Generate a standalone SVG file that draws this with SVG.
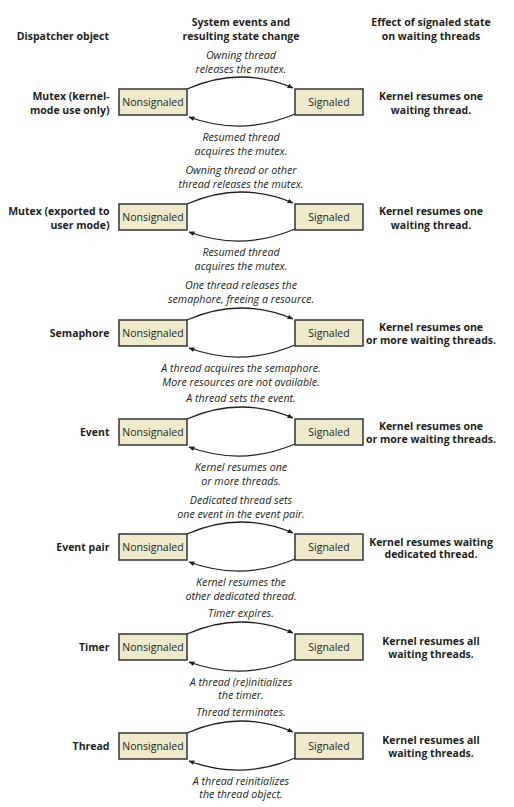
<svg xmlns="http://www.w3.org/2000/svg" width="514" height="807" viewBox="0 0 514 807">
<style>
text{font-family:"Open Sans","Noto Sans","Liberation Sans",sans-serif;fill:#231f20}
.h{font-weight:bold;font-size:10.5px;text-anchor:middle}
.l{font-weight:bold;font-size:10.5px;text-anchor:end}
.r{font-weight:bold;font-size:10.5px;text-anchor:middle}
.e{font-style:italic;font-size:10.7px;text-anchor:middle;fill:#231f20}
.b{font-size:10.5px;text-anchor:middle}
.box{fill:#efeacb;stroke:#333;stroke-width:1.5}
.c{fill:none;stroke:#231f20;stroke-width:1.3;marker-end:url(#ah)}
</style>
<defs>
<marker id="ah" viewBox="0 0 10 8" refX="9" refY="4" markerWidth="6" markerHeight="5" markerUnits="userSpaceOnUse" orient="auto">
<path d="M0,0 L10,4 L0,8 Z" fill="#231f20"/>
</marker>
</defs>
<rect width="514" height="807" fill="#fff"/>
<g id="headers">
<text class="l" x="109" y="40">Dispatcher object</text>
<text class="h" x="241" y="26">System events and</text>
<text class="h" x="241" y="40">resulting state change</text>
<text class="h" x="431" y="26">Effect of signaled state</text>
<text class="h" x="431" y="40">on waiting threads</text>
</g>
<g id="connectors">
<path class="c" d="M187,89 Q240,65.5 293,88"/>
<path class="c" d="M295,114 Q242,136.5 189,117"/>
<path class="c" d="M187,204 Q240,180.5 293,203"/>
<path class="c" d="M295,229 Q242,251.5 189,232"/>
<path class="c" d="M187,320 Q240,296.5 293,319"/>
<path class="c" d="M295,345 Q242,367.5 189,348"/>
<path class="c" d="M187,419 Q240,395.5 293,418"/>
<path class="c" d="M295,444 Q242,466.5 189,447"/>
<path class="c" d="M187,534 Q240,510.5 293,533"/>
<path class="c" d="M295,559 Q242,581.5 189,562"/>
<path class="c" d="M187,634 Q240,610.5 293,633"/>
<path class="c" d="M295,659 Q242,681.5 189,662"/>
<path class="c" d="M187,733 Q240,709.5 293,732"/>
<path class="c" d="M295,758 Q242,780.5 189,761"/>
</g>
<g id="row-mutex-kernel">
<text class="l" x="109.5" y="100">Mutex (kernel-</text>
<text class="l" x="109.5" y="113.5">mode use only)</text>
<g id="mk-nonsig"><rect class="box" x="119" y="89" width="68" height="26"/><text class="b" x="153" y="106">Nonsignaled</text></g>
<g id="mk-sig"><rect class="box" x="295" y="89" width="68" height="26"/><text class="b" x="329" y="106">Signaled</text></g>
<text class="e" x="241" y="58.5">Owning thread</text>
<text class="e" x="241" y="72.5">releases the mutex.</text>
<text class="e" x="241" y="140.5">Resumed thread</text>
<text class="e" x="241" y="154.5">acquires the mutex.</text>
<text class="r" x="431" y="100">Kernel resumes one</text>
<text class="r" x="431" y="113.5">waiting thread.</text>
</g>
<g id="row-mutex-user">
<text class="l" x="109.5" y="215">Mutex (exported to</text>
<text class="l" x="109.5" y="228.5">user mode)</text>
<g id="mu-nonsig"><rect class="box" x="119" y="204" width="68" height="26"/><text class="b" x="153" y="221">Nonsignaled</text></g>
<g id="mu-sig"><rect class="box" x="295" y="204" width="68" height="26"/><text class="b" x="329" y="221">Signaled</text></g>
<text class="e" x="241" y="174">Owning thread or other</text>
<text class="e" x="241" y="188">thread releases the mutex.</text>
<text class="e" x="241" y="255.5">Resumed thread</text>
<text class="e" x="241" y="269.5">acquires the mutex.</text>
<text class="r" x="431" y="215">Kernel resumes one</text>
<text class="r" x="431" y="228.5">waiting thread.</text>
</g>
<g id="row-semaphore">
<text class="l" x="109.5" y="337">Semaphore</text>
<g id="se-nonsig"><rect class="box" x="119" y="320" width="68" height="26"/><text class="b" x="153" y="337">Nonsignaled</text></g>
<g id="se-sig"><rect class="box" x="295" y="320" width="68" height="26"/><text class="b" x="329" y="337">Signaled</text></g>
<text class="e" x="241" y="289">One thread releases the</text>
<text class="e" x="241" y="303">semaphore, freeing a resource.</text>
<text class="e" x="241" y="371.5">A thread acquires the semaphore.</text>
<text class="e" x="241" y="385.5">More resources are not available.</text>
<text class="r" x="431" y="330.5">Kernel resumes one</text>
<text class="r" x="431" y="344">or more waiting threads.</text>
</g>
<g id="row-event">
<text class="l" x="109.5" y="436">Event</text>
<g id="ev-nonsig"><rect class="box" x="119" y="419" width="68" height="26"/><text class="b" x="153" y="436">Nonsignaled</text></g>
<g id="ev-sig"><rect class="box" x="295" y="419" width="68" height="26"/><text class="b" x="329" y="436">Signaled</text></g>
<text class="e" x="241" y="402">A thread sets the event.</text>
<text class="e" x="241" y="470.5">Kernel resumes one</text>
<text class="e" x="241" y="484.5">or more threads.</text>
<text class="r" x="431" y="429.5">Kernel resumes one</text>
<text class="r" x="431" y="443">or more waiting threads.</text>
</g>
<g id="row-event-pair">
<text class="l" x="109.5" y="551">Event pair</text>
<g id="ep-nonsig"><rect class="box" x="119" y="534" width="68" height="26"/><text class="b" x="153" y="551">Nonsignaled</text></g>
<g id="ep-sig"><rect class="box" x="295" y="534" width="68" height="26"/><text class="b" x="329" y="551">Signaled</text></g>
<text class="e" x="241" y="504">Dedicated thread sets</text>
<text class="e" x="241" y="517.5">one event in the event pair.</text>
<text class="e" x="241" y="585.5">Kernel resumes the</text>
<text class="e" x="241" y="600">other dedicated thread.</text>
<text class="r" x="431" y="545.5">Kernel resumes waiting</text>
<text class="r" x="431" y="558">dedicated thread.</text>
</g>
<g id="row-timer">
<text class="l" x="109.5" y="651">Timer</text>
<g id="ti-nonsig"><rect class="box" x="119" y="634" width="68" height="26"/><text class="b" x="153" y="651">Nonsignaled</text></g>
<g id="ti-sig"><rect class="box" x="295" y="634" width="68" height="26"/><text class="b" x="329" y="651">Signaled</text></g>
<text class="e" x="241" y="617">Timer expires.</text>
<text class="e" x="241" y="685.5">A thread (re)initializes</text>
<text class="e" x="241" y="699">the timer.</text>
<text class="r" x="431" y="644.5">Kernel resumes all</text>
<text class="r" x="431" y="658">waiting threads.</text>
</g>
<g id="row-thread">
<text class="l" x="109.5" y="750">Thread</text>
<g id="th-nonsig"><rect class="box" x="119" y="733" width="68" height="26"/><text class="b" x="153" y="750">Nonsignaled</text></g>
<g id="th-sig"><rect class="box" x="295" y="733" width="68" height="26"/><text class="b" x="329" y="750">Signaled</text></g>
<text class="e" x="241" y="716">Thread terminates.</text>
<text class="e" x="241" y="784.5">A thread reinitializes</text>
<text class="e" x="241" y="798">the thread object.</text>
<text class="r" x="431" y="743.5">Kernel resumes all</text>
<text class="r" x="431" y="757">waiting threads.</text>
</g>
</svg>
